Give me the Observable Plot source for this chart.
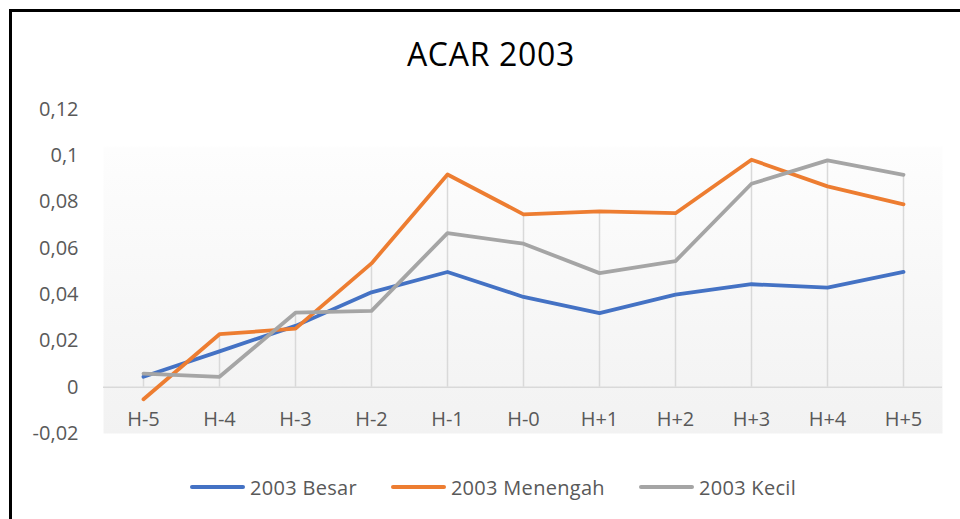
<!DOCTYPE html>
<html>
<head>
<meta charset="utf-8">
<script src="https://cdn.jsdelivr.net/npm/d3@7"></script>
<script src="https://cdn.jsdelivr.net/npm/@observablehq/plot@0.6"></script>
<style>
  html, body { margin: 0; padding: 0; background: #fff; overflow: hidden; width: 960px; height: 519px; }
  body { position: relative; font-family: "Open Sans", sans-serif; }
  #border { position: absolute; left: 9px; top: 9px; width: 1200px; height: 800px; border-left: 3px solid #000; border-top: 3px solid #000; pointer-events: none; }
  #title { box-sizing: border-box; width: 960px; height: 90px; padding-top: 38px; padding-left: 22px; font-size: 32px; line-height: 32px; text-align: center; color: #000; letter-spacing: 0.7px; }
  #chart svg { display: block; }
  #legend { box-sizing: border-box; width: 960px; height: 54px; padding-left: 26px; display: flex; justify-content: center; align-items: center; font-size: 20px; color: #595959; letter-spacing: 0.3px; }
  .item { display: flex; align-items: center; margin: 0 17px; }
  .sw { width: 55px; height: 4px; border-radius: 2px; margin-right: 5px; }
</style>
</head>
<body>
<div id="title">ACAR 2003</div>
<div id="chart"></div>
<div id="legend"></div>
<div id="border"></div>
<script>
const categories = ["H-5", "H-4", "H-3", "H-2", "H-1", "H-0", "H+1", "H+2", "H+3", "H+4", "H+5"];
const besar    = [0.0045, 0.0155, 0.0265, 0.041, 0.0498, 0.039, 0.032, 0.040, 0.0445, 0.043, 0.0498];
const menengah = [-0.0052, 0.0229, 0.0253, 0.0535, 0.0919, 0.0747, 0.076, 0.0752, 0.0983, 0.0868, 0.079];
const kecil    = [0.0059, 0.0045, 0.0322, 0.033, 0.0666, 0.062, 0.0493, 0.0545, 0.0879, 0.098, 0.0918];
const seriesNames = ["2003 Besar", "2003 Menengah", "2003 Kecil"];
const seriesColors = ["#4472C4", "#ED7D31", "#A5A5A5"];
const yTicks = [-0.02, 0, 0.02, 0.04, 0.06, 0.08, 0.1, 0.12];

const seriesValues = [besar, menengah, kecil];
const rows = [];
seriesNames.forEach((name, s) => {
  categories.forEach((c, i) => rows.push({series: name, cat: c, value: seriesValues[s][i]}));
});
const maxima = categories.map((c, i) => ({cat: c, value: Math.max(besar[i], menengah[i], kecil[i])}));

const fmt = d => String(d).replace(".", ",");

const plot = Plot.plot({
  width: 960,
  height: 370,
  marginLeft: 103,
  marginRight: 18,
  marginTop: 19,
  marginBottom: 27,
  style: {fontFamily: "Open Sans, sans-serif", fontSize: "20px", background: "transparent"},
  x: {type: "point", domain: categories, padding: 0.5, axis: null},
  y: {domain: [-0.02, 0.12], axis: null},
  color: {domain: seriesNames, range: seriesColors},
  marks: [
    Plot.frame({fill: "url(#bggrad)", stroke: "none"}),
    Plot.ruleX(maxima, {x: "cat", y1: () => 0, y2: "value", stroke: "#d9d9d9", strokeWidth: 1.5}),
    Plot.ruleY([0], {stroke: "#d9d9d9", strokeWidth: 1.5}),
    Plot.axisY(yTicks, {label: null, tickSize: 0, tickPadding: 25, tickFormat: fmt, fill: "#595959", fontSize: 20, style: "letter-spacing:1px"}),
    Plot.text(categories, {x: d => d, y: () => 0, dy: 32, text: d => d, fill: "#595959", fontSize: 20, textAnchor: "middle", lineAnchor: "middle", style: "letter-spacing:1px"}),
    Plot.line(rows, {x: "cat", y: "value", z: "series", stroke: "series", strokeWidth: 3.8, strokeLinecap: "round", strokeLinejoin: "round"})
  ]
});

const svg = d3.select(plot);
const defs = svg.insert("defs", ":first-child");
const grad = defs.append("linearGradient").attr("id", "bggrad").attr("x1", 0).attr("y1", 0).attr("x2", 0).attr("y2", 1);
grad.append("stop").attr("offset", "0%").attr("stop-color", "#ffffff");
grad.append("stop").attr("offset", "11%").attr("stop-color", "#ffffff");
grad.append("stop").attr("offset", "12%").attr("stop-color", "#fdfdfd");
grad.append("stop").attr("offset", "100%").attr("stop-color", "#f2f2f2");

document.getElementById("chart").appendChild(plot);

const legend = document.getElementById("legend");
seriesNames.forEach((name, i) => {
  const item = document.createElement("div");
  item.className = "item";
  const sw = document.createElement("div");
  sw.className = "sw";
  sw.style.background = seriesColors[i];
  const label = document.createElement("span");
  label.textContent = name;
  item.appendChild(sw);
  item.appendChild(label);
  legend.appendChild(item);
});
</script>
</body>
</html>
